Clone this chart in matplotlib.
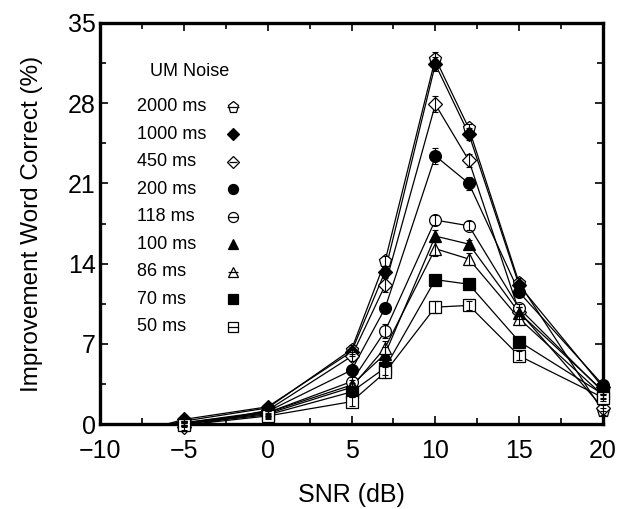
import matplotlib
matplotlib.use("Agg")
import matplotlib.pyplot as plt
import numpy as np
from matplotlib.ticker import MultipleLocator

plt.rcParams['font.family'] = ['Liberation Sans', 'DejaVu Sans']

snr = [-10, -5, 0, 5, 7, 10, 12, 15, 20]

labels = ["2000 ms", "1000 ms", "450 ms", "200 ms", "118 ms", "100 ms", "86 ms", "70 ms", "50 ms"]

v2000 = [-1.2, 0.25, 1.4, 6.5, 14.2, 31.9, 25.8, 12.3, 1.1]
v1000 = [-1.6, 0.4, 1.5, 6.3, 13.3, 31.4, 25.3, 12.1, 3.2]
v450 = [-1.8, -0.3, 1.2, 5.9, 12.1, 27.9, 23.0, 9.8, 1.4]
v200 = [-1.2, 0.1, 1.1, 4.7, 10.1, 23.4, 21.0, 11.5, 3.4]
v118 = [-1.2, 0.05, 1.0, 3.7, 8.1, 17.8, 17.3, 10.1, 2.8]
v100 = [-1.2, 0.1, 1.0, 3.4, 6.1, 16.4, 15.7, 9.7, 2.9]
v86 = [-1.2, 0.0, 0.9, 3.2, 6.65, 15.3, 14.4, 9.2, 2.5]
v70 = [-1.2, 0.0, 0.8, 2.8, 4.9, 12.6, 12.2, 7.2, 2.6]
v50 = [-1.2, -0.1, 0.7, 1.95, 4.5, 10.2, 10.35, 5.95, 2.3]

e2000 = [0.2, 0.2, 0.3, 0.4, 0.5, 0.6, 0.4, 0.4, 0.3]
e1000 = [0.2, 0.2, 0.3, 0.4, 0.5, 0.6, 0.5, 0.4, 0.3]
e450 = [0.2, 0.2, 0.3, 0.4, 0.6, 0.7, 0.6, 0.4, 0.3]
e200 = [0.2, 0.2, 0.3, 0.4, 0.4, 0.7, 0.6, 0.4, 0.3]
e118 = [0.2, 0.2, 0.3, 0.4, 0.6, 0.4, 0.4, 0.4, 0.3]
e100 = [0.2, 0.2, 0.3, 0.4, 0.6, 0.5, 0.4, 0.5, 0.3]
e86 = [0.2, 0.2, 0.3, 0.4, 0.6, 0.6, 0.5, 0.6, 0.3]
e70 = [0.2, 0.2, 0.3, 0.4, 0.6, 0.4, 0.3, 0.3, 0.3]
e50 = [0.2, 0.2, 0.3, 0.4, 0.5, 0.5, 0.4, 0.4, 0.3]

values = [v2000, v1000, v450, v200, v118, v100, v86, v70, v50]
errors = [e2000, e1000, e450, e200, e118, e100, e86, e70, e50]
markers = ['p', 'D', 'D', 'o', 'o', '^', '^', 's', 's']
filled = [False, True, False, True, False, True, False, True, False]
msizes = [9.5, 7, 7.5, 8.5, 8.5, 8.5, 9, 8.5, 8.5]

fig = plt.figure(figsize=(6.21, 5.09), dpi=100)
ax = fig.add_axes([100/621, 1-424/509, 503/621, 401/509])

x = np.array(snr, dtype=float)
vis = x >= -5
for vals, err, m, f, ms in zip(values, errors, markers, filled, msizes):
    y = np.array(vals)
    e = np.array(err)
    ax.plot(x, y, color='black', lw=0.9, zorder=2, clip_on=True)
    fc = 'black' if f else 'white'
    ax.errorbar(x[vis], y[vis], yerr=e[vis], fmt='none', ecolor='black',
                elinewidth=0.8, capsize=2.5, capthick=0.8, zorder=4, clip_on=False)
    ax.plot(x[vis], y[vis], linestyle='none', marker=m, ms=ms, mfc=fc,
            mec='black', mew=0.9, zorder=3, clip_on=False)

ax.set_xlim(-10, 20)
ax.set_ylim(0, 35)
ax.xaxis.set_major_locator(MultipleLocator(5))
ax.xaxis.set_minor_locator(MultipleLocator(2.5))
ax.yaxis.set_major_locator(MultipleLocator(7))
ax.yaxis.set_minor_locator(MultipleLocator(3.5))
ax.tick_params(which='both', direction='in', top=True, right=True, width=1.2)
ax.tick_params(which='major', length=6, labelsize=18)
ax.tick_params(axis='x', which='major', pad=11)
ax.tick_params(axis='y', which='major', pad=3)
ax.tick_params(which='minor', length=4)
for s in ax.spines.values():
    s.set_linewidth(2.4)

ax.set_xlabel("SNR (dB)", fontsize=18, labelpad=14)
ax.set_ylabel("Improvement Word Correct (%)", fontsize=17.5, labelpad=18)

# custom legend
ax.text(0.179, 0.8786, "UM Noise", transform=ax.transAxes, fontsize=13,
        ha='center', va='center')
for i, (lab, m, f, ms) in enumerate(zip(labels, markers, filled, msizes)):
    yy = (424 - (106.7 + 27.5 * i)) / 401
    ax.text(0.073, yy, lab, transform=ax.transAxes, fontsize=13, ha='left', va='center')
    fc = 'black' if f else 'white'
    ax.plot([0.264], [yy], transform=ax.transAxes, marker=m, ms=ms * 0.85, mfc=fc,
            mec='black', mew=0.9, linestyle='none', clip_on=False)
    if not f:
        ax.plot([0.264], [yy], transform=ax.transAxes, marker='_', ms=ms * 0.85,
                mec='black', mew=0.9, linestyle='none', clip_on=False)

fig.savefig("out.png", dpi=100)
